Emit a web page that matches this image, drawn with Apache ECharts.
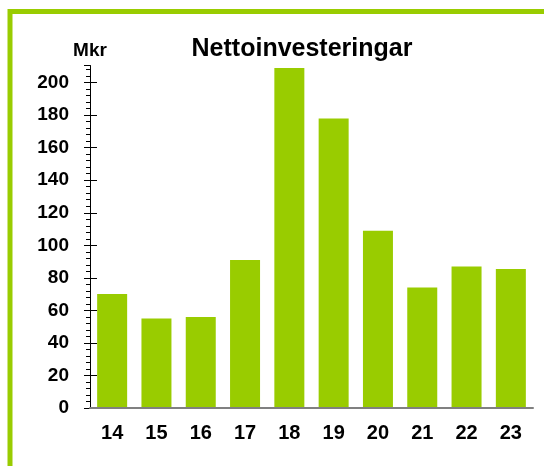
<!DOCTYPE html>
<html>
<head>
<meta charset="utf-8">
<script src="https://cdn.jsdelivr.net/npm/echarts@6/dist/echarts.min.js"></script>
<style>
  html, body { margin: 0; padding: 0; background: #fff; }
  #chart { width: 544px; height: 466px; }
</style>
</head>
<body>
<div id="chart"></div>
<script>
// data
const years = ['14', '15', '16', '17', '18', '19', '20', '21', '22', '23']
const invest = [70, 55, 56, 91, 209, 178, 109, 74, 87, 85.5]
const majorTicks = [0, 20, 40, 60, 80, 100, 120, 140, 160, 180, 200]

const font = 'Arial, "Liberation Sans", sans-serif'
const green = '#99CC00'

const myChart = echarts.init(document.getElementById('chart'))

const option = {
  animation: false,
  title: {
    text: 'Nettoinvesteringar',
    left: 297,
    top: 32,
    textAlign: 'center',
    textStyle: { fontFamily: font, fontWeight: 'bold', fontSize: 25, color: '#000' },
  },
  // green frame, cut off at the right and bottom
  graphic: [
    {
      type: 'rect',
      shape: { x: 10, y: 11.5, width: 700, height: 700 },
      style: { fill: 'none', stroke: green, lineWidth: 5 },
      z: 100,
    },
  ],
  grid: { left: 90, right: 11, top: 65.5, bottom: 58 },
  xAxis: {
    type: 'category',
    data: years,
    axisLine: { lineStyle: { color: '#808080', width: 2 } },
    axisTick: { show: false },
    axisLabel: {
      margin: 15,
      fontFamily: font,
      fontWeight: 'bold',
      fontSize: 20,
      color: '#000',
    },
    z: 10,
  },
  yAxis: [
    {
      type: 'value',
      min: 0,
      max: 210.5,
      interval: 20,
      name: 'Mkr',
      nameLocation: 'end',
      nameGap: 5,
      nameTextStyle: {
        fontFamily: font,
        fontWeight: 'bold',
        fontSize: 19,
        color: '#000',
        align: 'center',
      },
      axisLine: { show: true, lineStyle: { color: '#000', width: 1 } },
      axisTick: { show: true, length: 6, lineStyle: { color: '#000' } },
      minorTick: { show: true, splitNumber: 5, length: 4, lineStyle: { color: '#000' } },
      axisLabel: {
        margin: 21,
        showMaxLabel: false,
        fontFamily: font,
        fontWeight: 'bold',
        fontSize: 19,
        color: '#000',
      },
      splitLine: { show: false },
    },
    {
      // overlay axis: right half of the crossing major ticks
      type: 'value',
      position: 'left',
      min: 0,
      max: 210.5,
      interval: 20,
      axisLine: { show: false },
      axisTick: {
        show: true,
        inside: true,
        length: 7,
        customValues: majorTicks,
        lineStyle: { color: '#000' },
      },
      axisLabel: { show: false },
      splitLine: { show: false },
    },
  ],
  series: [
    {
      name: 'Nettoinvesteringar',
      type: 'bar',
      data: invest,
      barWidth: 30,
      itemStyle: { color: green },
    },
  ],
}

myChart.setOption(option)
</script>
</body>
</html>
